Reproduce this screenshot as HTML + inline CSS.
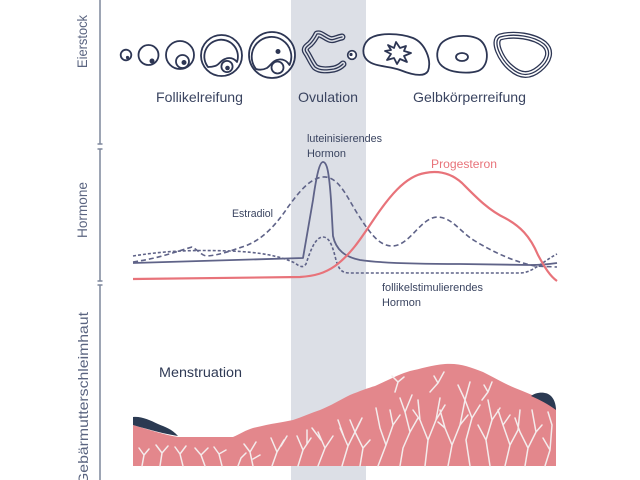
<!DOCTYPE html>
<html>
<head>
<meta charset="utf-8">
<style>
html,body{margin:0;padding:0;background:#fff;}
svg{display:block;}
text{font-family:"Liberation Sans",sans-serif;}
</style>
</head>
<body>
<svg width="640" height="480" viewBox="0 0 640 480" xmlns="http://www.w3.org/2000/svg">
<rect width="640" height="480" fill="#ffffff"/>
<!-- ovulation band -->
<rect x="291" y="0" width="75" height="480" fill="#dcdfe6"/>

<!-- axis -->
<g stroke="#7d879c" stroke-width="1.5" fill="none">
<line x1="100" y1="0" x2="100" y2="144"/>
<line x1="100" y1="149" x2="100" y2="281"/>
<line x1="100" y1="285" x2="100" y2="480"/>
<line x1="97.5" y1="144" x2="102.5" y2="144"/>
<line x1="97.5" y1="149" x2="102.5" y2="149"/>
<line x1="97.5" y1="281" x2="102.5" y2="281"/>
<line x1="97.5" y1="285" x2="102.5" y2="285"/>
</g>

<!-- axis labels -->
<g fill="#5a6480" font-size="14">
<text transform="translate(87,68) rotate(-90)" textLength="53" lengthAdjust="spacingAndGlyphs">Eierstock</text>
<text transform="translate(87,238) rotate(-90)" textLength="56" lengthAdjust="spacingAndGlyphs">Hormone</text>
<text transform="translate(88,485) rotate(-90)" textLength="173" lengthAdjust="spacingAndGlyphs">Gebärmutterschleimhaut</text>
</g>

<!-- ovary icons -->
<g stroke="#2d3654" stroke-width="1.8" fill="none" stroke-linecap="round" stroke-linejoin="round">
<circle cx="126" cy="55" r="5.3" fill="#fff"/>
<circle cx="127.5" cy="57.5" r="1.6" fill="#2d3654" stroke="none"/>

<circle cx="148.5" cy="55" r="10" fill="#fff"/>
<circle cx="152" cy="61" r="2.5" fill="#2d3654" stroke="none"/>

<circle cx="180" cy="55" r="14" fill="#fff"/>
<circle cx="182.5" cy="61.5" r="6.5"/>
<circle cx="184" cy="62.5" r="2.5" fill="#2d3654" stroke="none"/>

<circle cx="221.5" cy="55.5" r="20.5" fill="#fff"/>
<path d="M208,67 A16.8 16.8 0 1 1 237,62 C234,58 229,57 225,59 C220,61 219,65 215,66 C212,67 210,67 208,67"/>
<circle cx="227" cy="66.5" r="5.6" fill="#fff"/>
<circle cx="227.5" cy="68" r="2.3" fill="#2d3654" stroke="none"/>

<circle cx="272" cy="55" r="23" fill="#fff"/>
<path d="M256,69 A19.8 19.8 0 1 1 289.5,65 C287,61 283,59 279,59.5 C273,60 271,65 267,68 C263,70 259,70 256,69"/>
<circle cx="277.5" cy="67.5" r="6" fill="#fff"/>
<circle cx="278" cy="51.5" r="2.5" fill="#2d3654" stroke="none"/>
</g>

<!-- ovulation icon (triple line) -->
<g fill="none" stroke-linecap="round" stroke-linejoin="round">
<path d="M342,37 C336,38 333,41 329,39 C324,37 321,33 317,34 C315,38 313,41 310,44 C306,47 304,49 306,52 C309,56 311,62 315,67 C320,71 328,70 334,69 C338,68 341,66 343,64" stroke="#2d3654" stroke-width="7"/>
<path d="M342,37 C336,38 333,41 329,39 C324,37 321,33 317,34 C315,38 313,41 310,44 C306,47 304,49 306,52 C309,56 311,62 315,67 C320,71 328,70 334,69 C338,68 341,66 343,64" stroke="#dcdfe6" stroke-width="4.4"/>
<path d="M342,37 C336,38 333,41 329,39 C324,37 321,33 317,34 C315,38 313,41 310,44 C306,47 304,49 306,52 C309,56 311,62 315,67 C320,71 328,70 334,69 C338,68 341,66 343,64" stroke="#2d3654" stroke-width="1.3"/>
</g>
<circle cx="352" cy="55" r="4.3" fill="#fff" stroke="#2d3654" stroke-width="1.7"/>
<circle cx="351" cy="54.5" r="1.6" fill="#2d3654"/>

<!-- corpus luteum icons -->
<g stroke="#2d3654" stroke-width="1.8" fill="none" stroke-linejoin="round">
<path d="M368,40 C376,32 400,33 413,38 C425,43 432,60 428,71 C424,78 410,74 400,70 C390,66 374,67 367,60 C362,55 362,46 368,40 Z" fill="#fff"/>
<path d="M388,45 L394,48 L396,42 L400,48 L406,46 L404,51 L411,53 L404,56 L407,62 L400,59 L397,64 L394,58 L387,60 L391,54 L385,51 L391,50 Z"/>
<path d="M440,45 C446,35 470,33 480,40 C490,48 489,67 478,71 C468,74 450,73 442,66 C436,61 436,52 440,45 Z" fill="#fff"/>
<ellipse cx="462" cy="57" rx="6" ry="4"/>
</g>
<g fill="none" stroke-linejoin="round">
<path d="M500,37 C514,33 534,36 544,44 C552,51 549,61 539,69 C529,77 520,76 511,68 C501,60 492,41 500,37 Z" stroke="#2d3654" stroke-width="7"/>
<path d="M500,37 C514,33 534,36 544,44 C552,51 549,61 539,69 C529,77 520,76 511,68 C501,60 492,41 500,37 Z" stroke="#ffffff" stroke-width="4.4"/>
<path d="M500,37 C514,33 534,36 544,44 C552,51 549,61 539,69 C529,77 520,76 511,68 C501,60 492,41 500,37 Z" stroke="#2d3654" stroke-width="1.3"/>
</g>

<!-- top labels -->
<g fill="#3a4460" font-size="14">
<text x="156" y="102" textLength="87" lengthAdjust="spacingAndGlyphs">Follikelreifung</text>
<text x="298" y="102" textLength="60" lengthAdjust="spacingAndGlyphs">Ovulation</text>
<text x="413" y="102" textLength="113" lengthAdjust="spacingAndGlyphs">Gelbkörperreifung</text>
</g>

<!-- hormone curves -->
<g fill="none" stroke-linecap="butt" stroke-linejoin="round">
<!-- FSH -->
<path d="M133,256 C170,250 200,250 230,251 C260,252 280,256 295,263 C300,267 303,268 306,264 C310,252 315,237 323,237 C330,237 333,248 336,260 C339,270 342,273 350,273 L520,273 C532,273 542,262 557,254" stroke="#5f6388" stroke-width="1.6" stroke-dasharray="3,2"/>
<!-- Estradiol -->
<path d="M133,262 C160,258 175,252 192,247 C198,250 202,256 207,256 C220,255 230,251 245,246 C262,240 276,225 288,207 C299,192 310,178 323,177 C338,176 346,195 357,213 C368,230 378,246 392,246 C410,246 420,218 437,217 C452,217 460,232 475,241 C495,253 515,262 535,266 L557,267" stroke="#5f6388" stroke-width="1.6" stroke-dasharray="5,3"/>
<!-- LH -->
<path d="M133,263 L303,258 L313,200 C317,172 320,162 323,162 C327,162 329,172 331,200 L333,236 C336,250 345,257 360,260 C380,263 420,264 460,264 L530,265 C540,265 550,264 557,263" stroke="#5f6388" stroke-width="1.8"/>
<!-- Progesteron -->
<path d="M133,279 L300,277 C315,276 325,273 335,266 C350,255 360,240 372,222 C388,198 405,176 425,173 C440,170 452,174 462,183 C475,196 488,210 505,218 C520,226 530,236 538,255 C545,268 550,276 557,281" stroke="#e8737a" stroke-width="2.2"/>
</g>

<!-- hormone labels -->
<g fill="#3a4460" font-size="11">
<text x="307" y="142" textLength="75" lengthAdjust="spacingAndGlyphs">luteinisierendes</text>
<text x="307" y="157" textLength="39" lengthAdjust="spacingAndGlyphs">Hormon</text>
<text x="232" y="217" textLength="41" lengthAdjust="spacingAndGlyphs">Estradiol</text>
<text x="382" y="291" textLength="101" lengthAdjust="spacingAndGlyphs">follikelstimulierendes</text>
<text x="382" y="306" textLength="39" lengthAdjust="spacingAndGlyphs">Hormon</text>
</g>
<text x="431" y="168" fill="#e8737a" font-size="12" textLength="66" lengthAdjust="spacingAndGlyphs">Progesteron</text>

<!-- endometrium -->
<text x="159" y="377" fill="#2f3a55" font-size="13.5" textLength="83" lengthAdjust="spacingAndGlyphs">Menstruation</text>
<path d="M133,425 C150,430 165,435 178,437 L233,437 C240,434 246,430 253,428 C262,426 270,424 277,423 C283,422 288,421 293,420 C302,417 311,413 320,410 C330,406 340,400 350,395 C360,391 368,388 375,386 C388,380 400,374 410,371 C420,369 432,365 445,364 C460,363 470,367 483,372 C495,378 505,384 515,388 C525,392 535,396 545,401 L556,408 L556,466 L133,466 Z" fill="#e3878c"/>
<path d="M133,417 C141,416 150,420 158,424 C165,427 172,429 178,436 C165,434 150,430 133,425 Z" fill="#2b3a52"/>
<path d="M531,396 C536,392 546,391 551,396 C554,399 556,404 556,410 C548,404 540,400 531,396 Z" fill="#2b3a52"/>

<!-- veins -->
<g fill="none" stroke="#f4ecec" stroke-width="1.5" stroke-linecap="round" stroke-linejoin="round">
<path d="M142,466 L144,455 L139,448 M144,455 L149,449"/>
<path d="M160,466 L162,453 L156,445 M162,453 L168,446"/>
<path d="M183,466 L180,454 L175,447 M180,454 L186,446"/>
<path d="M205,466 L201,455 L195,448 M201,455 L208,448"/>
<path d="M222,466 L219,454 L214,447 M219,454 L226,450"/>
<path d="M238,466 L241,458 L246,453"/>
<path d="M253,466 L250,452 L244,444 M250,452 L256,442 M253,459 L260,455"/>
<path d="M272,466 L277,452 L271,438 M277,452 L284,440 M281,446 L287,436"/>
<path d="M298,466 L303,450 L297,436 M303,450 L311,438 M307,444 L307,430"/>
<path d="M318,466 L325,448 L318,432 M325,448 L333,436 M321,440 L312,428"/>
<path d="M342,466 L348,446 L340,428 M348,446 L356,430 M344,437 L338,420 M352,438 L360,422"/>
<path d="M360,466 L363,448 L355,432 L350,420 M355,432 L362,418 M363,448 L370,440"/>
<path d="M378,466 L386,445 L380,428 L376,408 M386,445 L393,425 L390,410 M393,425 L400,415"/>
<path d="M400,466 L403,448 L410,432 L405,412 M410,432 L418,418 M405,412 L400,398 M405,412 L412,395"/>
<path d="M425,466 L428,440 L420,420 L418,400 M428,440 L436,420 L440,398 M420,420 L413,410 M436,420 L445,405"/>
<path d="M448,466 L452,445 L445,428 L440,410 M452,445 L460,425 L465,400 M445,428 L438,422 M460,425 L468,415"/>
<path d="M470,466 L466,440 L472,418 L465,400 L458,385 M472,418 L480,405 M465,400 L470,382"/>
<path d="M490,466 L486,440 L478,425 M486,440 L492,420 L488,400 M492,420 L500,408"/>
<path d="M505,466 L510,445 L503,425 L498,410 M510,445 L518,430 L520,410 M503,425 L510,415"/>
<path d="M525,466 L528,448 L520,432 L515,418 M528,448 L536,432 L532,410 M536,432 L542,425"/>
<path d="M545,466 L550,450 L543,438 M550,450 L552,425 L548,412"/>
<path d="M438,383 L444,372 M430,392 L438,383 L434,376"/>
<path d="M395,392 L398,382 L392,376 M398,382 L404,377"/>
<path d="M488,392 L492,382 M482,400 L488,392 L484,385"/>
</g>
</svg>
</body>
</html>
